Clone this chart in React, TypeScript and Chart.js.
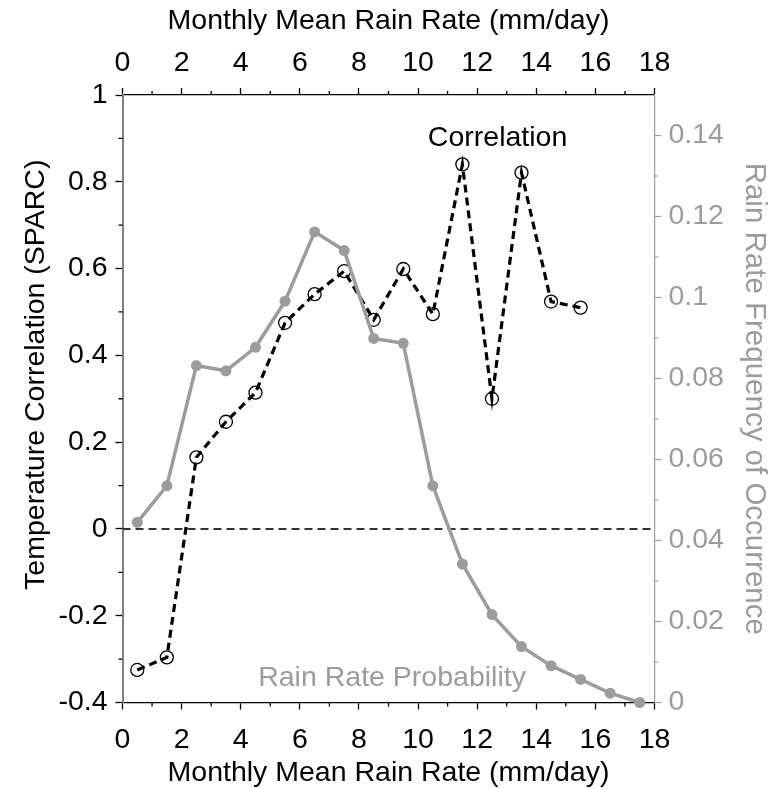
import React, { useEffect, useRef } from 'react';
import { Chart, registerables } from 'chart.js';

Chart.register(...registerables);

// ---------- data ----------
const corrRates = [0.5, 1.5, 2.5, 3.5, 4.5, 5.5, 6.5, 7.5, 8.5, 9.5, 10.5, 11.5, 12.5, 13.5, 14.5, 15.5];
const correlation = [-0.325, -0.296, 0.165, 0.247, 0.314, 0.475, 0.541, 0.594, 0.482, 0.599, 0.495, 0.84, 0.3, 0.821, 0.524, 0.51];

const freqRates = [0.5, 1.5, 2.5, 3.5, 4.5, 5.5, 6.5, 7.5, 8.5, 9.5, 10.5, 11.5, 12.5, 13.5, 14.5, 15.5, 16.5, 17.5];
const frequency = [0.0445, 0.0535, 0.0832, 0.0819, 0.0877, 0.0991, 0.1162, 0.1116, 0.0899, 0.0887, 0.0535, 0.0342, 0.0217, 0.0138, 0.0091, 0.0057, 0.0023, 0.0];

const xTicks = [0, 2, 4, 6, 8, 10, 12, 14, 16, 18];
const leftTicks = [-0.4, -0.2, 0, 0.2, 0.4, 0.6, 0.8, 1];
const rightTicks = [0, 0.02, 0.04, 0.06, 0.08, 0.1, 0.12, 0.14];

const xTitle = 'Monthly Mean Rain Rate (mm/day)';
const leftTitle = 'Temperature Correlation (SPARC)';
const rightTitle = 'Rain Rate Frequency of Occurrence';

const annotations = [
  { text: 'Correlation', x: 12.69, y: 0.9, color: '#000000' },
  { text: 'Rain Rate Probability', x: 9.12, y: -0.343, color: '#9c9c9c' },
];

// ---------- styles ----------
const FONT = '"Liberation Sans", Arial, sans-serif';
const GRAY = '#9c9c9c';
const mids = (arr: number[]) => arr.slice(1).map((v, i) => (v + arr[i]) / 2);
const xMinor = mids(xTicks);
const leftMinor = mids(leftTicks);
const rightMinor = mids(rightTicks);

const fmt = (v: number) => String(Number(v.toFixed(3)));

const extrasPlugin = {
  id: 'extras',
  beforeDatasetsDraw(chart: any) {
    const { ctx, chartArea } = chart;
    const y = Math.round(chart.scales.y.getPixelForValue(0));
    ctx.save();
    ctx.strokeStyle = '#333333';
    ctx.lineWidth = 1.8;
    ctx.setLineDash([8, 5]);
    ctx.beginPath();
    ctx.moveTo(chartArea.left, y);
    ctx.lineTo(chartArea.right, y);
    ctx.stroke();
    ctx.restore();
  },
  afterDraw(chart: any) {
    const { ctx, chartArea } = chart;
    const { left, right, top, bottom } = chartArea;
    const L = 4;
    ctx.save();
    ctx.lineWidth = 1.3;
    ctx.strokeStyle = '#000';
    ctx.beginPath();
    for (const v of xMinor) {
      const px = chart.scales.x.getPixelForValue(v);
      ctx.moveTo(px, bottom);
      ctx.lineTo(px, bottom + L);
      const pt = chart.scales.x2.getPixelForValue(v);
      ctx.moveTo(pt, top);
      ctx.lineTo(pt, top - L);
    }
    for (const v of leftMinor) {
      const py = chart.scales.y.getPixelForValue(v);
      ctx.moveTo(left, py);
      ctx.lineTo(left - L, py);
    }
    ctx.stroke();
    ctx.strokeStyle = GRAY;
    ctx.lineWidth = 1.2;
    ctx.beginPath();
    for (const v of rightMinor) {
      const py = chart.scales.y1.getPixelForValue(v);
      ctx.moveTo(right, py);
      ctx.lineTo(right + L, py);
    }
    ctx.stroke();

    ctx.font = `28.5px ${FONT}`;
    ctx.textAlign = 'center';
    ctx.textBaseline = 'middle';
    for (const a of annotations) {
      ctx.fillStyle = a.color;
      ctx.fillText(a.text, chart.scales.x.getPixelForValue(a.x), chart.scales.y.getPixelForValue(a.y));
    }

    // left axis title, placed slightly above the axis centre as in the original
    ctx.fillStyle = '#000';
    ctx.translate(36, (top + bottom) / 2 - 24);
    ctx.rotate(-Math.PI / 2);
    ctx.fillText(leftTitle, 0, 0);
    ctx.restore();
  },
};

export default function App() {
  const ref = useRef<HTMLCanvasElement | null>(null);

  useEffect(() => {
    if (!ref.current) return;
    const tickFont = { family: FONT, size: 28.5 };
    const titleFont = { family: FONT, size: 28.5 };
    const setTicks = (arr: number[]) => (scale: any) => {
      scale.ticks = arr.map((v) => ({ value: v }));
    };
    const chart = new Chart(ref.current, {
      type: 'line',
      data: {
        datasets: [
          {
            label: 'Rain Rate Probability',
            data: freqRates.map((x, i) => ({ x, y: frequency[i] })),
            xAxisID: 'x',
            yAxisID: 'y1',
            borderColor: GRAY,
            backgroundColor: GRAY,
            borderWidth: 3.5,
            pointRadius: 5.5,
            pointBackgroundColor: GRAY,
            pointBorderColor: GRAY,
            pointBorderWidth: 0,
            tension: 0,
            clip: false as any,
          },
          {
            label: 'Correlation',
            data: corrRates.map((x, i) => ({ x, y: correlation[i] })),
            xAxisID: 'x',
            yAxisID: 'y',
            borderColor: '#000',
            borderWidth: 3.2,
            borderDash: [8, 5],
            pointRadius: 6.5,
            pointBackgroundColor: 'rgba(0,0,0,0)',
            pointBorderColor: '#000',
            pointBorderWidth: 1.3,
            tension: 0,
            clip: false as any,
          },
        ],
      },
      options: {
        responsive: false,
        animation: false,
        devicePixelRatio: 1,
        layout: { padding: 0 },
        plugins: { legend: { display: false }, tooltip: { enabled: false } },
        scales: {
          x: {
            type: 'linear',
            position: 'bottom',
            min: 0,
            max: 18,
            afterBuildTicks: setTicks(xTicks),
            afterFit: (s: any) => { s.height = 86.5; },
            ticks: { font: tickFont, color: '#000', padding: 14, maxRotation: 0, autoSkip: false, callback: (v: any) => fmt(Number(v)) },
            grid: { drawOnChartArea: false, drawTicks: true, tickLength: 7, tickColor: '#000', tickWidth: 1.3 },
            border: { display: true, color: '#000', width: 1.3 },
            title: { display: true, text: xTitle, font: titleFont, color: '#000', padding: { top: 0, bottom: -1 } },
          },
          x2: {
            type: 'linear',
            position: 'top',
            min: 0,
            max: 18,
            afterBuildTicks: setTicks(xTicks),
            afterFit: (s: any) => { s.height = 95; },
            ticks: { font: tickFont, color: '#000', padding: 8, maxRotation: 0, autoSkip: false, callback: (v: any) => fmt(Number(v)) },
            grid: { drawOnChartArea: false, drawTicks: true, tickLength: 7, tickColor: '#000', tickWidth: 1.3 },
            border: { display: true, color: '#000', width: 1.3 },
            title: { display: true, text: xTitle, font: titleFont, color: '#000', padding: { top: 4, bottom: 0 } },
          },
          y: {
            type: 'linear',
            position: 'left',
            min: -0.4,
            max: 1,
            afterBuildTicks: setTicks(leftTicks),
            afterFit: (s: any) => { s.width = 122.5; },
            ticks: { font: tickFont, color: '#000', padding: 8, autoSkip: false, callback: (v: any) => fmt(Number(v)) },
            grid: { drawOnChartArea: false, drawTicks: true, tickLength: 7, tickColor: '#000', tickWidth: 1.3 },
            border: { display: true, color: '#808080', width: 2 },
            title: { display: false },
          },
          y1: {
            type: 'linear',
            position: 'right',
            min: 0,
            max: 0.15,
            afterBuildTicks: setTicks(rightTicks),
            afterFit: (s: any) => { s.width = 117.5; },
            ticks: { font: tickFont, color: GRAY, padding: 7, autoSkip: false, callback: (v: any) => fmt(Number(v)) },
            grid: { drawOnChartArea: false, drawTicks: true, tickLength: 7, tickColor: GRAY, tickWidth: 1.2 },
            border: { display: true, color: GRAY, width: 1.2 },
            title: { display: true, text: rightTitle, font: { family: FONT, size: 29.5 }, color: GRAY, padding: { top: 0, bottom: 0 } },
          },
        },
      } as any,
      plugins: [extrasPlugin as any],
    });
    return () => chart.destroy();
  }, []);

  return (
    <div style={{ position: 'fixed', left: 0, top: 0, width: 772, height: 789, background: '#fff' }}>
      <canvas ref={ref} width={772} height={789} style={{ display: 'block' }} />
    </div>
  );
}
